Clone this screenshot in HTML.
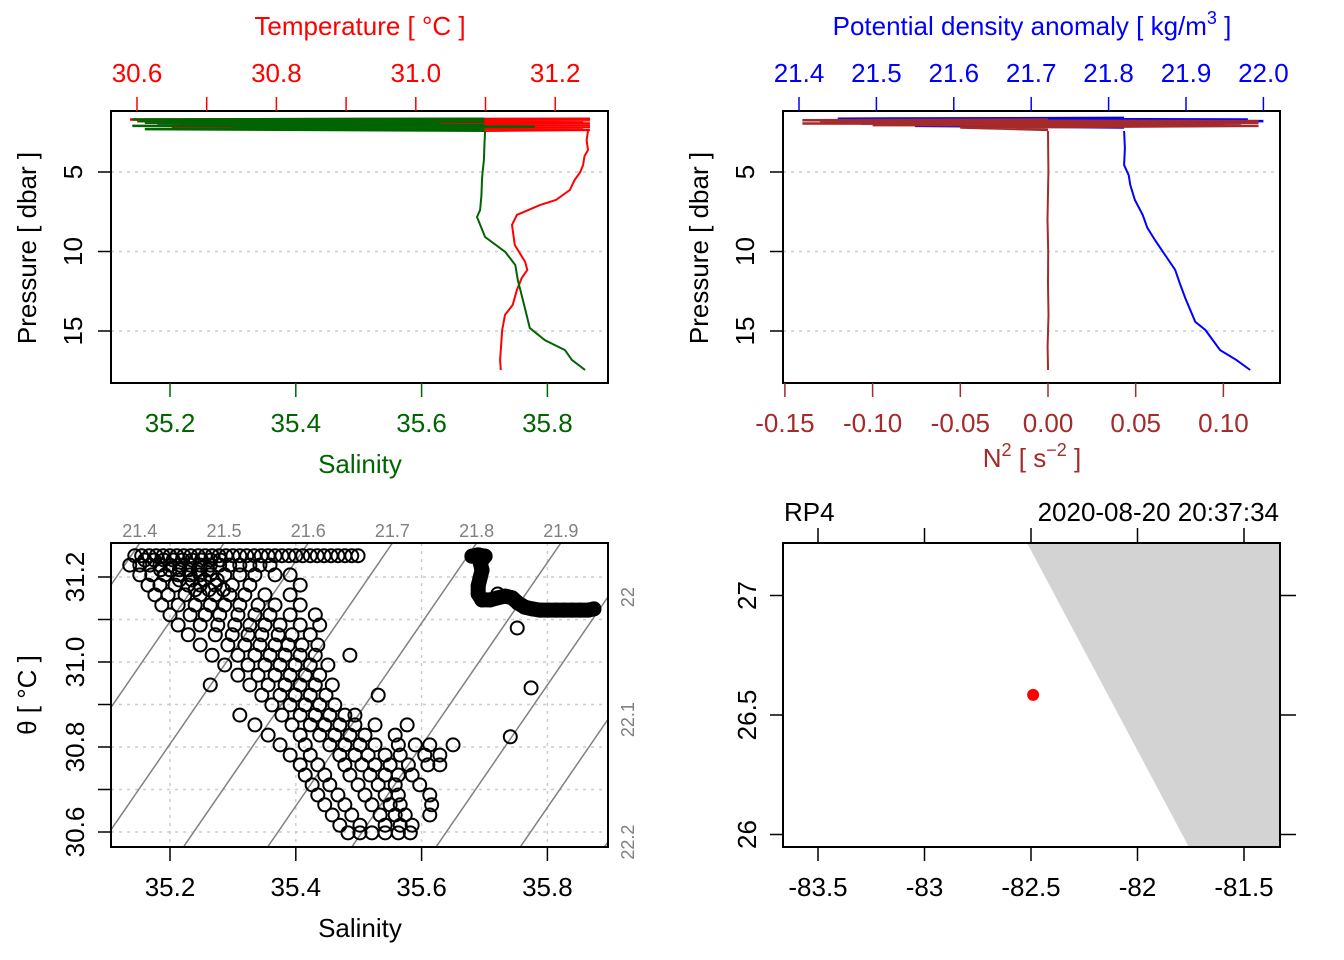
<!DOCTYPE html>
<html><head><meta charset="utf-8"><style>
html,body{margin:0;padding:0;background:#fff;}
svg{display:block;font-family:"Liberation Sans",Arial,sans-serif;}
</style></head><body>
<svg id="fig" width="1344" height="960" viewBox="0 0 1344 960" xmlns="http://www.w3.org/2000/svg">
<defs>
<clipPath id="clipTL"><rect x="111" y="111" width="497" height="272"/></clipPath>
<clipPath id="clipTR"><rect x="783" y="111" width="497" height="272"/></clipPath>
<clipPath id="clipTS"><rect x="111" y="543" width="497" height="304"/></clipPath>
<clipPath id="clipMap"><rect x="783" y="543" width="497" height="304"/></clipPath>
</defs>
</svg>
<script>
// ---------- data ----------
const profP = [2.42,3.0,3.62,4.0,4.56,5.0,5.5,6.13,6.76,7.08,7.7,8.33,9.59,10.66,11.16,11.67,12.42,13.36,13.99,14.94,16.82,17.45];
const profT = [31.247,31.245,31.247,31.242,31.240,31.236,31.228,31.221,31.201,31.178,31.145,31.138,31.142,31.157,31.160,31.152,31.145,31.139,31.128,31.124,31.121,31.122];
const salP = [2.42,3.2,4.25,5.0,5.5,6.5,7.39,7.83,9.09,10.03,10.85,11.79,13.05,14.81,15.57,16.2,16.82,17.45];
const salS = [35.701,35.700,35.699,35.697,35.696,35.695,35.693,35.688,35.701,35.733,35.749,35.753,35.761,35.772,35.796,35.828,35.839,35.860];
const surfTP = [1.65,1.7,1.75,1.8,1.85,1.9,1.95,2.0,2.05,2.1,2.15,2.2,2.25,2.3,2.35,2.4];
const surfT = [31.25,30.59,31.25,30.60,31.24,30.62,31.25,30.66,31.25,30.75,31.25,30.65,31.24,30.9,31.25,31.1];
const surfSP = [1.65,1.7,1.75,1.8,1.85,1.9,1.95,2.0,2.05,2.1,2.15,2.2,2.25,2.3,2.4];
const surfS = [35.70,35.14,35.70,35.15,35.70,35.16,35.63,35.18,35.70,35.14,35.78,35.30,35.70,35.16,35.70];
const sigP = [2.42,3.5,4.56,5.2,5.82,6.76,7.7,8.5,9.28,10.22,11.16,12.0,12.92,14.43,14.94,16.2,16.82,17.45];
const sigV = [21.820,21.821,21.820,21.826,21.828,21.834,21.844,21.850,21.860,21.873,21.886,21.892,21.899,21.912,21.925,21.944,21.965,21.983];
const surfSigP = [1.6,1.65,1.7,1.75,1.8,1.85,1.9,1.95,2.0,2.1,2.2];
const surfSig = [21.82,21.45,21.98,21.43,22.0,21.50,21.99,21.48,21.95,21.55,21.82];
const n2P = [2.42,5,8,10,12,14,16,17.3,17.45];
const n2V = [0.0,0.0002,-0.0003,0.0001,0.0,0.0003,-0.0002,0.0,0.0];
const surfN2P = [1.7,1.75,1.8,1.85,1.9,1.95,2.0,2.05,2.1,2.2,2.35];
const surfN2 = [0.0,-0.14,0.12,-0.13,0.12,-0.14,0.11,-0.10,0.12,-0.05,0.0];
const sTicks = [35.2,35.4,35.6,35.8];
const tTicks = [30.6,30.7,30.8,30.9,31.0,31.1,31.2];
const tLabels = [30.6,30.8,31.0,31.2];
const pTicks = [5,10,15];
const sigTicks = [21.4,21.5,21.6,21.7,21.8,21.9,22.0];
const n2Ticks = [-0.15,-0.10,-0.05,0.00,0.05,0.10];
const thTicks = [30.6,30.7,30.8,30.9,31.0,31.1,31.2];
const thLabels = [30.6,30.8,31.0,31.2];
const isoLevels = [21.3,21.4,21.5,21.6,21.7,21.8,21.9,22.0,22.1,22.2,22.3];
const isoTopLabels = [21.4,21.5,21.6,21.7,21.8,21.9];
const isoRightLabels = [22.0,22.1,22.2];
const tsS = [35.144,35.155,35.167,35.178,35.189,35.200,35.211,35.222,35.233,35.245,35.256,35.267,35.278,35.289,35.300,35.311,35.322,35.334,35.345,35.356,35.367,35.378,35.389,35.400,35.411,35.423,35.434,35.445,35.456,35.467,35.478,35.489,35.499,
35.136,35.152,35.168,35.184,35.200,35.216,35.232,35.248,35.264,35.279,35.295,35.311,35.327,35.343,35.359,
35.152,35.171,35.192,35.213,35.232,35.248,35.264,35.287,35.311,35.335,35.367,35.391,
35.165,35.184,35.208,35.229,35.248,35.272,35.299,35.327,35.407,
35.176,35.197,35.224,35.248,35.272,35.295,35.319,35.351,35.391,
35.187,35.213,35.240,35.264,35.287,35.311,35.340,35.367,35.407,
35.200,35.232,35.256,35.279,35.308,35.335,35.359,35.391,35.431,
35.213,35.248,35.276,35.303,35.327,35.351,35.375,35.407,35.438,
35.229,35.272,35.299,35.324,35.346,35.372,35.394,35.423,
35.248,35.292,35.319,35.343,35.367,35.388,35.410,35.435,
35.267,35.308,35.335,35.359,35.383,35.407,35.431,35.486,
35.287,35.324,35.351,35.375,35.399,35.423,35.451,
35.308,35.340,35.367,35.391,35.415,35.438,
35.264,35.327,35.356,35.383,35.407,35.431,35.458,
35.346,35.375,35.399,35.423,35.448,35.531,
35.362,35.391,35.415,35.438,35.462,
35.311,35.378,35.407,35.431,35.454,35.478,35.494,
35.335,35.394,35.423,35.446,35.470,35.494,35.526,35.577,
35.356,35.407,35.438,35.462,35.486,35.510,35.558,
35.375,35.415,35.454,35.478,35.502,35.526,35.563,35.590,35.613,35.650,
35.391,35.423,35.470,35.494,35.515,35.542,35.566,35.605,35.629,
35.407,35.435,35.478,35.505,35.526,35.550,35.579,35.610,35.629,
35.415,35.446,35.486,35.518,35.542,35.563,35.585,
35.426,35.454,35.499,35.531,35.558,35.597,
35.435,35.467,35.510,35.542,35.563,35.613,
35.446,35.478,35.521,35.550,35.566,35.616,
35.458,35.489,35.534,35.558,35.574,35.613,
35.470,35.502,35.542,35.566,35.585,
35.483,35.502,35.521,35.542,35.563,35.582,
35.752,35.774,35.741,35.696,35.721,
35.160,35.175,35.190,35.205,35.220,35.235,35.250,35.265,35.280,35.185,35.200,35.215,35.230,35.245,35.260,35.215,35.235,35.255,35.275,35.240,35.262,35.285];
const tsT = [31.25,31.25,31.25,31.25,31.25,31.25,31.25,31.25,31.25,31.25,31.25,31.25,31.25,31.25,31.25,31.25,31.25,31.25,31.25,31.25,31.25,31.25,31.25,31.25,31.25,31.25,31.25,31.25,31.25,31.25,31.25,31.25,31.25,
31.228,31.228,31.228,31.228,31.228,31.228,31.228,31.228,31.228,31.228,31.228,31.228,31.228,31.228,31.228,
31.205,31.205,31.205,31.205,31.205,31.205,31.205,31.205,31.205,31.205,31.205,31.205,
31.181,31.181,31.181,31.181,31.181,31.181,31.181,31.181,31.181,
31.158,31.158,31.158,31.158,31.158,31.158,31.158,31.158,31.158,
31.134,31.134,31.134,31.134,31.134,31.134,31.134,31.134,31.134,
31.111,31.111,31.111,31.111,31.111,31.111,31.111,31.111,31.111,
31.087,31.087,31.087,31.087,31.087,31.087,31.087,31.087,31.087,
31.064,31.064,31.064,31.064,31.064,31.064,31.064,31.064,
31.040,31.040,31.040,31.040,31.040,31.040,31.040,31.040,
31.016,31.016,31.016,31.016,31.016,31.016,31.016,31.016,
30.993,30.993,30.993,30.993,30.993,30.993,30.993,
30.969,30.969,30.969,30.969,30.969,30.969,
30.946,30.946,30.946,30.946,30.946,30.946,30.946,
30.922,30.922,30.922,30.922,30.922,30.922,
30.899,30.899,30.899,30.899,30.899,
30.875,30.875,30.875,30.875,30.875,30.875,30.875,
30.852,30.852,30.852,30.852,30.852,30.852,30.852,30.852,
30.828,30.828,30.828,30.828,30.828,30.828,30.828,
30.805,30.805,30.805,30.805,30.805,30.805,30.805,30.805,30.805,30.805,
30.781,30.781,30.781,30.781,30.781,30.781,30.781,30.781,30.781,
30.758,30.758,30.758,30.758,30.758,30.758,30.758,30.758,30.758,
30.734,30.734,30.734,30.734,30.734,30.734,30.734,
30.711,30.711,30.711,30.711,30.711,30.711,
30.687,30.687,30.687,30.687,30.687,30.687,
30.664,30.664,30.664,30.664,30.664,30.664,
30.640,30.640,30.640,30.640,30.640,30.640,
30.616,30.616,30.616,30.616,30.616,
30.598,30.598,30.598,30.598,30.598,30.598,
31.080,30.939,30.824,31.216,31.160,
31.240,31.240,31.240,31.240,31.240,31.240,31.240,31.240,31.240,31.217,31.217,31.217,31.217,31.217,31.217,31.193,31.193,31.193,31.193,31.170,31.170,31.170];
const clS = [35.680,35.690,35.701,35.693,35.696,35.693,35.690,35.690,35.696,35.709,35.721,35.733,35.744,35.753,35.764,35.776,35.788,35.801,35.814,35.826,35.839,35.852,35.865,35.874];
const clT = [31.249,31.252,31.249,31.235,31.216,31.198,31.179,31.160,31.146,31.146,31.151,31.155,31.151,31.139,31.129,31.125,31.122,31.122,31.122,31.122,31.122,31.122,31.122,31.125];
const coastLon = [-82.52,-81.33,-81.33,-81.76];
const coastLat = [27.222,27.222,25.95,25.95];
const stationLon = [-82.49];
const stationLat = [26.584];
const lonTicks = [-83.5,-83,-82.5,-82,-81.5];
const latTicks = [26,26.5,27];

// ---------- scales ----------
const xS = s => 170 + (s - 35.2) * 629;
const xT = t => 137 + (t - 30.6) * 697;
const yP = p => 172 + (p - 5) * 15.9;
const xSig = v => 799 + (v - 21.4) * 774;
const xN = n => 1048 + n * 1754;
const yTh = t => 577 - (t - 31.2) * 425;
const xLon = l => 1031 + (l + 82.5) * 213;
const yLat = l => 715 - (l - 26.5) * 239;

const NS = "http://www.w3.org/2000/svg";
const svg = document.getElementById('fig');
function mk(tag, attrs, parent) {
  const e = document.createElementNS(NS, tag);
  for (const k in attrs) e.setAttribute(k, attrs[k]);
  (parent || svg).appendChild(e);
  return e;
}
function txt(str, x, y, opts) {
  const e = mk('text', {x: x, y: y, 'font-size': opts.size || 26, fill: opts.fill || '#000', 'text-anchor': opts.anchor || 'middle'});
  if (opts.rot) e.setAttribute('transform', 'rotate(-90 ' + x + ' ' + y + ')');
  e.textContent = str;
  return e;
}
function poly(xs, ys, attrs) {
  const pts = xs.map((x, i) => x.toFixed(1) + ',' + ys[i].toFixed(1)).join(' ');
  const a = Object.assign({points: pts, fill: 'none'}, attrs);
  return mk('polyline', a);
}
function fmt(v, d) { return v.toFixed(d); }

let g;
// ---------- Top-left ----------
pTicks.forEach(p => {
  g = mk('line', {x1: 111, x2: 608, y1: yP(p), y2: yP(p), stroke: '#cccccc', 'stroke-width': 1.5, 'stroke-dasharray': '3,5'});
  
  
});
g = poly(surfT.map(xT), surfTP.map(yP), {stroke: '#ff0000', 'stroke-width': 2.5, 'clip-path': 'url(#clipTL)'});


g = poly(profT.map(xT), profP.map(yP), {stroke: '#ff0000', 'stroke-width': 2});


g = poly(surfS.map(xS), surfSP.map(yP), {stroke: '#006400', 'stroke-width': 2.5, 'clip-path': 'url(#clipTL)'});


g = poly(salS.map(xS), salP.map(yP), {stroke: '#006400', 'stroke-width': 2});


g = mk('rect', {x: 111, y: 111, width: 497, height: 272, fill: 'none', stroke: '#000', 'stroke-width': 2});


pTicks.forEach(p => {
  g = mk('line', {x1: 98, x2: 111, y1: yP(p), y2: yP(p), stroke: '#000', 'stroke-width': 1.5});
  
  
  g = txt(String(p), 82, yP(p), {rot: true});
  
  
});
g = txt('Pressure [ dbar ]', 36, 248, {rot: true});


tTicks.forEach(t => {
  g = mk('line', {x1: xT(t), x2: xT(t), y1: 97, y2: 111, stroke: '#ff0000', 'stroke-width': 1.5});
  
  
});
tLabels.forEach(t => {
  g = txt(fmt(t, 1), xT(t), 82, {fill: '#ff0000'});
  
  
});
g = txt('Temperature [ °C ]', 360, 35, {fill: '#ff0000'});


sTicks.forEach(s => {
  g = mk('line', {x1: xS(s), x2: xS(s), y1: 383, y2: 397, stroke: '#006400', 'stroke-width': 1.5});
  
  
  g = txt(fmt(s, 1), xS(s), 432, {fill: '#006400'});
  
  
});
g = txt('Salinity', 360, 473, {fill: '#006400'});



// ---------- Top-right ----------
pTicks.forEach(p => {
  g = mk('line', {x1: 783, x2: 1280, y1: yP(p), y2: yP(p), stroke: '#cccccc', 'stroke-width': 1.5, 'stroke-dasharray': '3,5'});
  
  
});
g = poly(surfSig.map(xSig), surfSigP.map(yP), {stroke: '#0000ff', 'stroke-width': 2.5, 'clip-path': 'url(#clipTR)'});


g = poly(sigV.map(xSig), sigP.map(yP), {stroke: '#0000ff', 'stroke-width': 2});


g = poly(surfN2.map(xN), surfN2P.map(yP), {stroke: '#a52a2a', 'stroke-width': 2.5, 'clip-path': 'url(#clipTR)'});


g = poly(n2V.map(xN), n2P.map(yP), {stroke: '#a52a2a', 'stroke-width': 2});


g = mk('rect', {x: 783, y: 111, width: 497, height: 272, fill: 'none', stroke: '#000', 'stroke-width': 2});


pTicks.forEach(p => {
  g = mk('line', {x1: 770, x2: 783, y1: yP(p), y2: yP(p), stroke: '#000', 'stroke-width': 1.5});
  
  
  g = txt(String(p), 754, yP(p), {rot: true});
  
  
});
g = txt('Pressure [ dbar ]', 708, 248, {rot: true});


sigTicks.forEach(v => {
  g = mk('line', {x1: xSig(v), x2: xSig(v), y1: 97, y2: 111, stroke: '#0000ff', 'stroke-width': 1.5});
  
  
  g = txt(fmt(v, 1), xSig(v), 82, {fill: '#0000ff'});
  
  
});
g = mk('text', {x: 1032, y: 35, 'font-size': 26, fill: '#0000ff', 'text-anchor': 'middle'});


g.innerHTML = 'Potential density anomaly [ kg/m<tspan dy="-11" font-size="18">3</tspan><tspan dy="11"> ]</tspan>';
n2Ticks.forEach(n => {
  g = mk('line', {x1: xN(n), x2: xN(n), y1: 383, y2: 397, stroke: '#a52a2a', 'stroke-width': 1.5});
  
  
  g = txt(fmt(n, 2), xN(n), 432, {fill: '#a52a2a'});
  
  
});
g = mk('text', {x: 1032, y: 467, 'font-size': 26, fill: '#a52a2a', 'text-anchor': 'middle'});


g.innerHTML = 'N<tspan dy="-11" font-size="18">2</tspan><tspan dy="11"> [ s</tspan><tspan dy="-11" font-size="18">−2</tspan><tspan dy="11"> ]</tspan>';

// ---------- Bottom-left: TS ----------
sTicks.forEach(s => {
  g = mk('line', {x1: xS(s), x2: xS(s), y1: 543, y2: 847, stroke: '#cccccc', 'stroke-width': 1.5, 'stroke-dasharray': '3,5'});
  
  
});
thTicks.forEach(t => {
  g = mk('line', {x1: 111, x2: 608, y1: yTh(t), y2: yTh(t), stroke: '#cccccc', 'stroke-width': 1.5, 'stroke-dasharray': '3,5'});
  
  
});
const sOfSig = (sig, t) => 35.152 + (sig - 21.4 + 0.347 * (t - 31.28)) / 0.747;
isoLevels.forEach(v => {
  g = mk('line', {x1: xS(sOfSig(v, 31.40)), y1: yTh(31.40), x2: xS(sOfSig(v, 30.50)), y2: yTh(30.50), stroke: '#808080', 'stroke-width': 1.5, 'clip-path': 'url(#clipTS)'});
  
  
});
const tsG = mk('g', {'clip-path': 'url(#clipTS)'});


g = poly(clS.map(xS), clT.map(yTh), {stroke: '#000', 'stroke-width': 15, 'stroke-linejoin': 'round', 'stroke-linecap': 'round'});
tsG.appendChild(g);


tsS.forEach((s, i) => {
  g = mk('circle', {cx: xS(s), cy: yTh(tsT[i]), r: 6.5, fill: 'none', stroke: '#000', 'stroke-width': 2}, tsG);
  
  
});
clS.forEach((s, i) => {
  g = mk('circle', {cx: xS(s), cy: yTh(clT[i]), r: 6.5, fill: 'none', stroke: '#000', 'stroke-width': 2}, tsG);
  
  
});
g = mk('rect', {x: 111, y: 543, width: 497, height: 304, fill: 'none', stroke: '#000', 'stroke-width': 2});


sTicks.forEach(s => {
  g = mk('line', {x1: xS(s), x2: xS(s), y1: 847, y2: 861, stroke: '#000', 'stroke-width': 1.5});
  
  
  g = txt(fmt(s, 1), xS(s), 896, {});
  
  
});
g = txt('Salinity', 360, 937, {});


thTicks.forEach(t => {
  g = mk('line', {x1: 98, x2: 111, y1: yTh(t), y2: yTh(t), stroke: '#000', 'stroke-width': 1.5});
  
  
});
thLabels.forEach(t => {
  g = txt(fmt(t, 1), 84, yTh(t), {rot: true});
  
  
});
g = txt('θ [ °C ]', 36, 695, {rot: true});


isoTopLabels.forEach(v => {
  g = txt(fmt(v, 1), xS(sOfSig(v, 31.28)), 537, {size: 18, fill: '#808080'});
  
  
});
isoRightLabels.forEach(v => {
  const t = 31.28 + (0.747 * (35.896 - 35.152) - (v - 21.4)) / 0.347;
  g = txt(v === 22 ? '22' : fmt(v, 1), 634, yTh(t), {size: 18, fill: '#808080', rot: true});
  
  
});

// ---------- Bottom-right: map ----------
g = mk('polygon', {points: coastLon.map((l, i) => xLon(l).toFixed(1) + ',' + yLat(coastLat[i]).toFixed(1)).join(' '), fill: '#d3d3d3', 'clip-path': 'url(#clipMap)'});


stationLon.forEach((l, i) => {
  g = mk('circle', {cx: xLon(l), cy: yLat(stationLat[i]), r: 6, fill: '#ff0000'});
  
  
});
g = mk('rect', {x: 783, y: 543, width: 497, height: 304, fill: 'none', stroke: '#000', 'stroke-width': 2});


lonTicks.forEach(l => {
  g = mk('line', {x1: xLon(l), x2: xLon(l), y1: 847, y2: 861, stroke: '#000', 'stroke-width': 1.5});
  
  
  g = mk('line', {x1: xLon(l), x2: xLon(l), y1: 528, y2: 543, stroke: '#000', 'stroke-width': 1.5});
  
  
  g = txt(String(l), xLon(l), 896, {});
  
  
});
latTicks.forEach(l => {
  g = mk('line', {x1: 770, x2: 783, y1: yLat(l), y2: yLat(l), stroke: '#000', 'stroke-width': 1.5});
  
  
  g = mk('line', {x1: 1280, x2: 1296, y1: yLat(l), y2: yLat(l), stroke: '#000', 'stroke-width': 1.5});
  
  
  g = txt(String(l), 756, yLat(l), {rot: true});
  
  
});
g = txt('RP4', 784, 521, {anchor: 'start'});


g = txt('2020-08-20 20:37:34', 1279, 521, {anchor: 'end'});


</script>
</body></html>
